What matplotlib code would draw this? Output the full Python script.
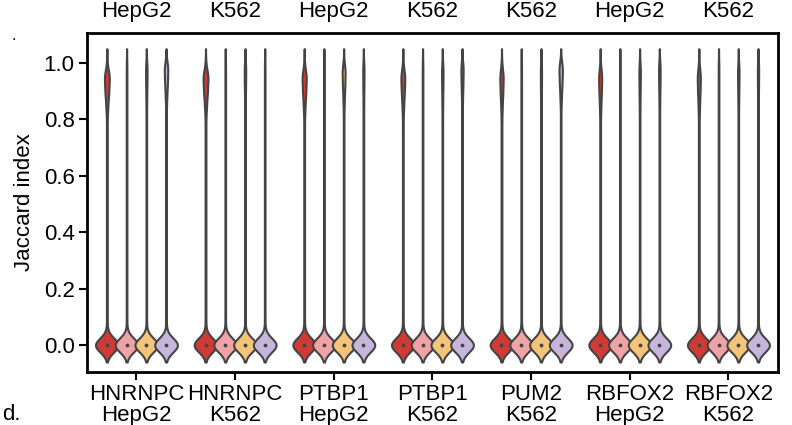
import numpy as np
import matplotlib
matplotlib.use("Agg")
import matplotlib.pyplot as plt
import matplotlib.transforms as mtrans

plt.rcParams["font.family"] = "Liberation Sans"

groups = ["HNRNPC\nHepG2", "HNRNPC\nK562", "PTBP1\nHepG2", "PTBP1\nK562",
          "PUM2\nK562", "RBFOX2\nHepG2", "RBFOX2\nK562"]
top_labels = ["HepG2", "K562", "HepG2", "K562", "K562", "HepG2", "K562"]
colors = ["#cf3a35", "#f0a3a6", "#f4c47a", "#c6b6db"]

zero_mass = [[100, 80, 90, 110], [100, 80, 90, 55], [100, 80, 90, 80], [100, 80, 90, 80],
             [100, 80, 90, 110], [100, 80, 90, 80], [100, 80, 90, 80]]
tail_mass = [[1.4, 0.9, 1.0, 1.3], [1.4, 0.9, 1.0, 0.6], [1.4, 0.9, 1.0, 0.9], [1.4, 0.9, 1.0, 0.9],
             [1.4, 0.9, 1.0, 1.2], [1.4, 0.9, 1.0, 0.9], [1.4, 0.9, 1.0, 0.9]]
peak_pos = [[0.95, 0.95, 0.98, 0.98], [0.95, 0.95, 0.98, 0.98], [0.95, 0.95, 0.97, 0.98], [0.95, 0.95, 0.97, 0.98],
            [0.95, 0.95, 0.97, 0.98], [0.95, 0.95, 0.97, 0.98], [0.95, 0.95, 0.97, 0.98]]
peak_mass = [[16, 0, 3, 12], [16, 0, 3, 0], [13, 0, 8, 2], [12, 0, 3, 5],
             [10, 0, 2, 12], [9, 0, 3, 3], [9, 0, 3, 2]]

bw = 0.025
grid = np.linspace(-0.06, 1.05, 400)
tail_vals = np.arange(0.05, 1.001, 0.025)

fig = plt.figure(figsize=(7.92, 4.25), dpi=100)
ax = fig.add_axes([0.110, 0.125, 0.872, 0.797])

offsets = [-0.3, -0.1, 0.1, 0.3]
stats, positions = [], []
for g in range(len(groups)):
    for k in range(4):
        p = peak_pos[g][k]
        vals = np.concatenate([[0.0], tail_vals, [p - 0.1, p - 0.05, p]])
        pm = peak_mass[g][k]
        w = np.concatenate([[zero_mass[g][k]], np.full(len(tail_vals), tail_mass[g][k]), [pm * 0.3, pm * 0.7, pm]])
        dens = (w[:, None] * np.exp(-0.5 * ((grid[None, :] - vals[:, None]) / bw) ** 2)).sum(0)
        stats.append(dict(coords=grid, vals=dens, mean=0, median=0, min=0, max=1, quantiles=[]))
        positions.append(g + offsets[k])

parts = ax.violin(stats, positions=positions, widths=0.23, showmeans=False,
                  showextrema=False, showmedians=False)
for i, b in enumerate(parts["bodies"]):
    b.set_facecolor(colors[i % 4])
    b.set_edgecolor("#444444")
    b.set_linewidth(1.5)
    b.set_alpha(1)
ax.scatter(positions, [0] * len(positions), s=3, color="#444444", zorder=3)

ax.set_xlim(-0.5, len(groups) - 0.5)
ax.set_ylim(-0.095, 1.105)
ax.set_yticks(np.arange(0, 1.01, 0.2))
ax.set_yticklabels([f"{v:.1f}" for v in np.arange(0, 1.01, 0.2)], fontsize=16)
ax.set_xticks(range(len(groups)))
ax.set_xticklabels(groups, fontsize=16, linespacing=0.95)
ax.tick_params(direction="out", width=1.5, length=6, pad=3)
ax.set_ylabel("Jaccard index", fontsize=16, labelpad=6)
for s in ax.spines.values():
    s.set_linewidth(2)

tr = mtrans.blended_transform_factory(ax.transData, fig.transFigure)
for i, t in enumerate(top_labels):
    ax.text(i, 0.948, t, transform=tr, fontsize=16, ha="center", va="bottom")
fig.text(0.003, 0.0, "d.", fontsize=16, ha="left", va="bottom")
fig.text(0.014, 0.905, ".", fontsize=12)

fig.savefig("out.png", dpi=100)
